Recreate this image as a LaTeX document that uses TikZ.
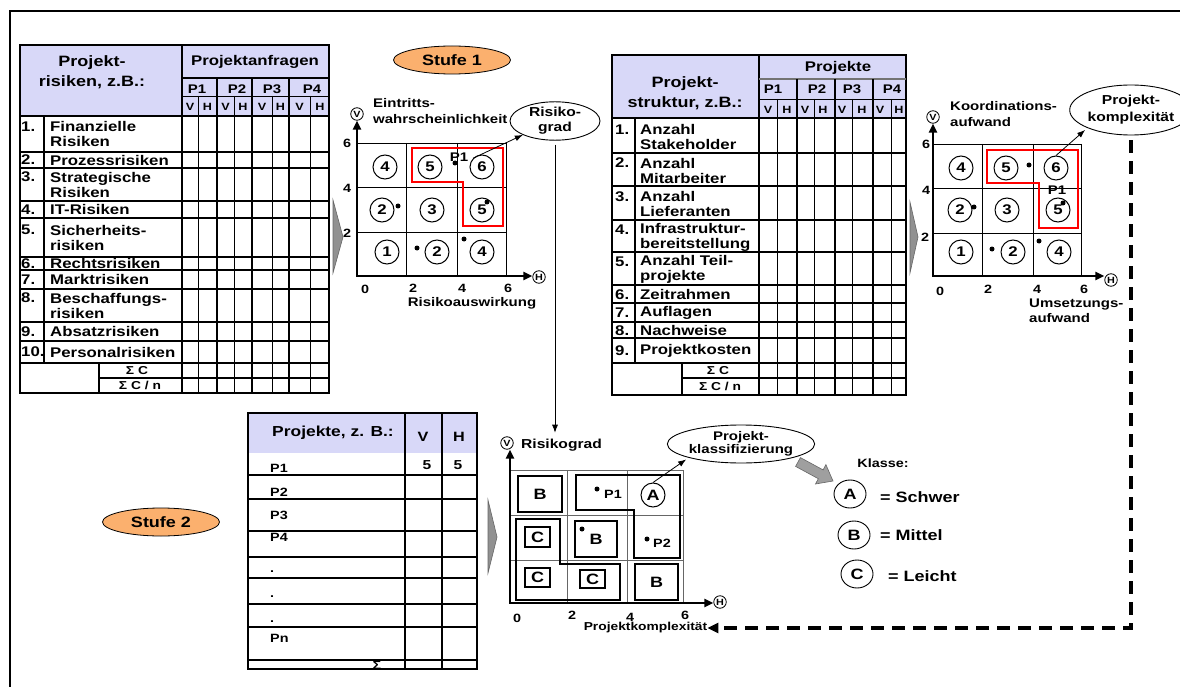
\documentclass[tikz,border=0pt]{standalone}
\usepackage{fontspec}
\setmainfont{Liberation Sans}[FakeStretch=1.2]
\usetikzlibrary{arrows.meta,shapes.geometric}
\definecolor{hdr}{RGB}{216,216,248}
\definecolor{stufecol}{RGB}{251,176,110}
\definecolor{chevcol}{RGB}{145,145,145}
\newcommand{\fz}[2]{\fontsize{#1}{#2}\selectfont\bfseries}
\begin{document}
\begin{tikzpicture}[x=1pt,y=-1pt,
  rowline/.style={line width=1.2pt},
  grpline/.style={line width=2pt},
  subline/.style={line width=0.9pt},
  lbl/.style={inner sep=0pt, anchor=west, align=left, font=\fz{14}{15}},
  ctr/.style={inner sep=0pt, align=center},
  chartlbl/.style={inner sep=0pt, anchor=west, align=left, font=\fz{12.5}{16}},
  num/.style={circle, draw, line width=1pt, minimum size=24pt, inner sep=0pt, font=\fz{14}{14}},
  axc/.style={circle, draw, line width=0.8pt, minimum size=12.5pt, inner sep=0pt, font=\fz{9}{9}},
  axis/.style={line width=2.5pt, line cap=rect, -{Triangle[length=9pt,width=8pt]}},
  cell/.style={line width=0.9pt},
  zone/.style={draw=red, line width=2.5pt},
  dot/.style={circle, fill, inner sep=0pt, minimum size=5pt},
  tick/.style={inner sep=0pt, font=\fz{12}{12}},
  oval/.style={ellipse, draw, line width=0.9pt, inner sep=0pt, align=center},
  stufe/.style={ellipse, draw, fill=stufecol, line width=0.8pt, minimum width=117pt, minimum height=28pt, inner sep=0pt, font=\fz{15}{15}},
  ptr/.style={line width=0.8pt, -{Latex[length=8pt,width=6pt]}},
  chevron/.style={fill=chevcol, draw=black!60, line width=0.6pt},
  cls/.style={draw, line width=2.8pt, inner sep=0pt, font=\fz{15}{15}},
  clsin/.style={draw, line width=1.5pt, inner sep=0pt, font=\fz{15}{15}},
  small/.style={inner sep=0pt, font=\fz{12}{12}},
]
\useasboundingbox (0,0) rectangle (1180,687);
\fill[white] (0,0) rectangle (1180,687);

% outer frame
\draw[line width=2.5pt] (10,687) -- (10,11) -- (1180,11);

% ---------- table: project risks ----------
\fill[hdr] (20,45) rectangle (330,116);
\draw[line width=1.5pt] (20,45) rectangle (329,393);
\draw[grpline] (182,45) -- (182,393);
\draw[rowline] (182,78) -- (330,78);
\draw[subline] (182,96) -- (330,96);
\foreach \x in {217,252,289} \draw[grpline] (\x,78) -- (\x,393);
\foreach \x in {198,234,272,310} \draw[subline] (\x,96) -- (\x,393);
\foreach \y in {116,152,168,201,218,257,270,289,322,341,363} \draw[rowline] (20,\y) -- (329,\y);
\draw[rowline] (99,378) -- (329,378);
\draw[rowline] (44,116) -- (44,363);
\draw[rowline] (99,363) -- (99,393);

\node[ctr, font=\fz{15}{20}] (t1t) at (92,72.5) {Projekt-\\risiken, z.B.:};
\node[ctr, font=\fz{14}{14}] (t1q) at (255,62) {Projektanfragen};
\foreach \x/\p in {197/P1,237/P2,272/P3,312/P4}
  \node[ctr, font=\fz{12.5}{12.5}] (t1\p) at (\x,89) {\p};
\foreach \x/\l [count=\i] in {190/V,207.5/H,225.5/V,243/H,262/V,280.5/H,299.5/V,320/H}
  \node[ctr, font=\fz{10.5}{10.5}] (t1vh\i) at (\x,106.5) {\l};
\foreach \yc/\k/\n/\t [count=\i] in {
  134/2/1./{Finanzielle\\Risiken},
  160/1/2./Prozessrisiken,
  184.5/2/3./{Strategische\\Risiken},
  209.5/1/4./IT-Risiken,
  237.5/2/5./{Sicherheits-\\risiken},
  263.5/1/6./Rechtsrisiken,
  279.5/1/7./Marktrisiken,
  305.5/2/8./{Beschaffungs-\\risiken},
  331.5/1/9./Absatzrisiken,
  352/1/10./Personalrisiken}
{
  \node[lbl] (r1t\i) at (50,\yc) {\t};
  \node[lbl] (r1n\i) at (21,{\yc-7.5*(\k-1)}) {\n};
}
\node[ctr, font=\fz{11.5}{11.5}] (t1s) at (137,370.5) {Σ C};
\node[ctr, font=\fz{11.5}{11.5}] (t1sn) at (140,385.5) {Σ C / n};

% ---------- table: project structure ----------
\fill[hdr] (612,55) rectangle (906,118);
\draw[line width=1.5pt] (612,55) rectangle (906,395);
\draw[grpline] (759,55) -- (759,395);
\draw[line width=1.2pt, draw=black!55] (759,79) -- (906,79);
\draw[subline] (759,99) -- (906,99);
\foreach \x in {797,835,873} \draw[grpline] (\x,79) -- (\x,395);
\foreach \x in {777,814,852,891} \draw[subline] (\x,99) -- (\x,395);
\foreach \y in {118,153,186,220,252,285,303,322,338,363} \draw[rowline] (612,\y) -- (906,\y);
\draw[rowline] (682,378) -- (906,378);
\draw[rowline] (635,118) -- (635,363);
\draw[rowline] (682,363) -- (682,395);

\node[ctr, font=\fz{15}{20}] (t2t) at (685,93) {Projekt-\\struktur, z.B.:};
\node[ctr, font=\fz{14}{14}] (t2q) at (838,68) {Projekte};
\foreach \x/\p in {773/P1,817/P2,852/P3,892/P4}
  \node[ctr, font=\fz{12.5}{12.5}] (t2\p) at (\x,89.5) {\p};
\foreach \x/\l [count=\i] in {768/V,787/H,805/V,823/H,842/V,862/H,880/V,899/H}
  \node[ctr, font=\fz{10.5}{10.5}] (t2vh\i) at (\x,110) {\l};
\foreach \yc/\k/\n/\t [count=\i] in {
  137/2/1./{Anzahl\\Stakeholder},
  170.5/2/2./{Anzahl\\Mitarbeiter},
  204/2/3./{Anzahl\\Lieferanten},
  237/2/4./{Infrastruktur-\\bereitstellung},
  269.5/2/5./{Anzahl Teil-\\projekte},
  294.5/1/6./Zeitrahmen,
  313/1/7./Auflagen,
  330.5/1/8./Nachweise,
  350.5/1/9./Projektkosten}
{
  \node[lbl] (r2t\i) at (640,\yc) {\t};
  \node[lbl] (r2n\i) at (615,{\yc-7.5*(\k-1)}) {\n};
}
\node[ctr, font=\fz{11.5}{11.5}] (t2s) at (718,370.5) {Σ C};
\node[ctr, font=\fz{11.5}{11.5}] (t2sn) at (720,386.5) {Σ C / n};

% ---------- table: projects ----------
\fill[hdr] (248,413) rectangle (477,453);
\draw[line width=1.5pt] (248,413) rectangle (477,669);
\draw[line width=1.5pt] (405,413) -- (405,669);
\draw[line width=1.2pt] (442,413) -- (442,669);
\foreach \y in {475,499,531,557,578,604,627,660} \draw[rowline] (248,\y) -- (477,\y);
\node[ctr, font=\fz{14.5}{14.5}] (t3t) at (333,433) {Projekte, z. B.:};
\node[ctr, font=\fz{13.5}{13.5}] (t3v) at (423,437) {V};
\node[ctr, font=\fz{13.5}{13.5}] (t3h) at (459,437) {H};
\foreach \y/\t [count=\i] in {468/P1,492/P2,515/P3,537/P4,572/.,597/.,622/.,638/Pn}
  \node[small, anchor=west] (t3r\i) at (270,\y) {\t};
\node[ctr, font=\fz{12}{12}] (t3s) at (377,665.5) {Σ};
\node[ctr, font=\fz{13}{13}] (t3v1) at (427,465) {5};
\node[ctr, font=\fz{13}{13}] (t3h1) at (458,465) {5};

% ---------- stage labels ----------
\node[stufe] (s1) at (452,60) {Stufe 1};
\node[stufe] (s2) at (161,522) {Stufe 2};

% ---------- chevrons ----------
\draw[chevron] (333,200) -- (343,237) -- (333,273) -- cycle;
\draw[chevron] (910,202) -- (918,237) -- (910,273) -- cycle;
\draw[chevron] (488,500) -- (497,537) -- (488,573) -- cycle;

% ---------- chart: risk grade ----------
\coordinate (o1) at (357,276);
\node[axc] (v1) at (357,114) {V};
\node[axc] (h1) at (539,277) {H};
\draw[cell] (357,143) -- (506,143) (357,187) -- (506,187) (357,232) -- (506,232)
            (406,143) -- (406,276) (457,143) -- (457,276) (506,143) -- (506,276);
\draw[axis] (o1) -- (o1 |- v1.south);
\draw[axis] (o1) -- (o1 -| h1.west);
\node[tick] (y16) at (347,143) {6};
\node[tick] (y14) at (347,188) {4};
\node[tick] (y12) at (347,233) {2};
\node[tick] (x10) at (365,289) {0};
\node[tick] (x12) at (413,288) {2};
\node[tick] (x14) at (462,288) {4};
\node[tick] (x16) at (508,288) {6};
\node[chartlbl] (l1a) at (373,111.5) {Eintritts-\\wahrscheinlichkeit};
\node[ctr, font=\fz{12.5}{14}] (l1b) at (472,303) {Risikoauswirkung};
\foreach \x/\y/\n [count=\i] in {385/167/4,430/167/5,482/167/6,382/210/2,432/210/3,482/210/5,387/252/1,437/252/2,482/252/4}
  \node[num] (c1\i) at (\x,\y) {\n};
\draw[zone] (412,148) -- (503,148) -- (503,226) -- (463,226) -- (463,182) -- (412,182) -- cycle;
\foreach \x/\y [count=\i] in {455/163,398/206,487/202,417/248,464/239}
  \node[dot] (d1\i) at (\x,\y) {};
\node[inner sep=0pt, font=\fz{12.5}{12.5}] (p1a) at (459,157) {P1};
\node[oval, minimum width=90pt, minimum height=35pt, font=\fz{13}{15}] (rg) at (555,121) {Risiko-\\grad};
\draw[ptr] (c13.north west) -- (rg.south west);

% ---------- chart: project complexity ----------
\coordinate (o2) at (933,276);
\node[axc] (v2) at (933,117) {V};
\node[axc] (h2) at (1111,280) {H};
\draw[cell] (933,144) -- (1081,144) (933,188) -- (1081,188) (933,233) -- (1081,233)
            (982,144) -- (982,276) (1033,144) -- (1033,276) (1081,144) -- (1081,276);
\draw[axis] (o2) -- (o2 |- v2.south);
\draw[axis] (o2) -- (o2 -| h2.west);
\node[tick] (y26) at (926,144) {6};
\node[tick] (y24) at (926,190) {4};
\node[tick] (y22) at (925,237) {2};
\node[tick] (x20) at (940,291) {0};
\node[tick] (x22) at (988,289) {2};
\node[tick] (x24) at (1037,289) {4};
\node[tick] (x26) at (1084,289) {6};
\node[chartlbl] (l2a) at (950,114) {Koordinations-\\aufwand};
\node[chartlbl, font=\fz{12.5}{15}] (l2b) at (1029,311) {Umsetzungs-\\aufwand};
\foreach \x/\y/\n [count=\i] in {961/168/4,1006/168/5,1056/168/6,960/210/2,1007/210/3,1058/210/5,961/252/1,1013/252/2,1059/252/4}
  \node[num] (c2\i) at (\x,\y) {\n};
\draw[zone] (987,150) -- (1078,150) -- (1078,228) -- (1039,228) -- (1039,183) -- (987,183) -- cycle;
\foreach \x/\y [count=\i] in {1029/165,974/207,1063/203,992/249,1039/241}
  \node[dot] (d2\i) at (\x,\y) {};
\node[inner sep=0pt, font=\fz{12.5}{12.5}] (p2a) at (1057,190) {P1};
\node[oval, minimum width=94pt, minimum height=50pt, font=\fz{13}{17}] (pk) at (1131,110) {Projekt-\\komplexität};
\draw[ptr, shorten >=3pt] (c23.north) -- (pk.south west);

% ---------- chart: classification ----------
\coordinate (o3) at (510,603);
\node[axc] (v3) at (507,443) {V};
\node[axc] (h3) at (720,602) {H};
\draw[line width=0.7pt, draw=black!60] (510,470) -- (683,470) (510,515) -- (683,515) (510,560) -- (683,560)
            (567,470) -- (567,603) (627,470) -- (627,603) (683,470) -- (683,603);
\node[cls, minimum width=44pt, minimum height=36pt] (bb1) at (540,494) {B};
\node[clsin, minimum width=25pt, minimum height=20pt] (bc1) at (537.5,537) {C};
\node[clsin, minimum width=25pt, minimum height=19pt] (bc2) at (537.5,577.5) {C};
\node[clsin, line width=2pt, minimum width=25pt, minimum height=18pt] (bc3) at (592.5,579) {C};
\node[cls, minimum width=42pt, minimum height=36pt, text depth=-6pt] (bb2) at (596,539) {B};
\node[cls, minimum width=43pt, minimum height=36pt] (bb3) at (656.5,582) {B};
\node[num, font=\fz{15}{15}] (cA) at (653,495) {A};
\draw[line width=2.8pt, line join=miter] (576,475) -- (680,475) -- (680,558) -- (634,558) -- (634,510) -- (576,510) -- cycle;
\draw[line width=2.8pt, line join=miter] (516,519) -- (560,519) -- (560,564) -- (620,564) -- (620,600) -- (516,600) -- cycle;
\draw[axis] (o3) -- (o3 |- v3.south);
\draw[axis] (o3) -- (o3 -| h3.west);
\node[dot] (d31) at (597,489) {};
\node[small] (p31) at (613,494) {P1};
\node[dot] (d32) at (582,529) {};
\node[dot] (d33) at (647,539) {};
\node[small] (p32) at (662,543) {P2};
\node[tick] (x30) at (517,618) {0};
\node[tick] (x32) at (572,615) {2};
\node[tick] (x34) at (630,617) {4};
\node[tick] (x36) at (685,615) {6};
\node[inner sep=0pt, anchor=west, font=\fz{13}{13}] (rg3) at (521,445) {Risikograd};
\node[inner sep=0pt, font=\fz{11.5}{11.5}] (x3) at (645.5,628) {Projektkomplexität};
\node[oval, minimum width=124pt, minimum height=38pt, font=\fz{12.5}{13}] (pkl) at (741,444) {Projekt-\\klassifizierung};
\draw[ptr, shorten >=3pt] (cA.north) -- (pkl.south west);

% connectors between the charts
\draw[ptr, shorten <=4pt, shorten >=6pt] (rg.south) -- (rg.south |- rg3.north);
\draw[line width=3.2pt, dash pattern=on 13pt off 8pt, shorten <=5pt,
      -{Triangle[length=11pt,width=10pt]}] (pk.south) |- (x3.east);

% ---------- legend ----------
\fill[gray!75, draw=black!60, line width=0.6pt]
  (800.4,457.6) -- (823.1,469.9) -- (825.9,464.6) -- (833,481) -- (815.5,484.0) -- (818.3,478.7) -- (795.6,466.4) -- cycle;
\node[inner sep=0pt, font=\fz{12}{12}] (kl) at (883,463) {Klasse:};
\node[ellipse, draw, line width=0.9pt, minimum width=32pt, minimum height=28pt, inner sep=0pt, font=\fz{15}{15}] (la) at (850,494) {A};
\node[ellipse, draw, line width=0.9pt, minimum width=32pt, minimum height=28pt, inner sep=0pt, font=\fz{15}{15}] (lb) at (854,535) {B};
\node[ellipse, draw, line width=0.9pt, minimum width=32pt, minimum height=28pt, inner sep=0pt, font=\fz{15}{15}] (lc) at (857,574) {C};
\node[inner sep=0pt, anchor=west, font=\fz{15}{15}] (ls) at (880,497) {= Schwer};
\node[inner sep=0pt, anchor=west, font=\fz{15}{15}] (lm) at (880,535) {= Mittel};
\node[inner sep=0pt, anchor=west, font=\fz{15}{15}] (ll) at (888,576) {= Leicht};
\end{tikzpicture}
\end{document}
